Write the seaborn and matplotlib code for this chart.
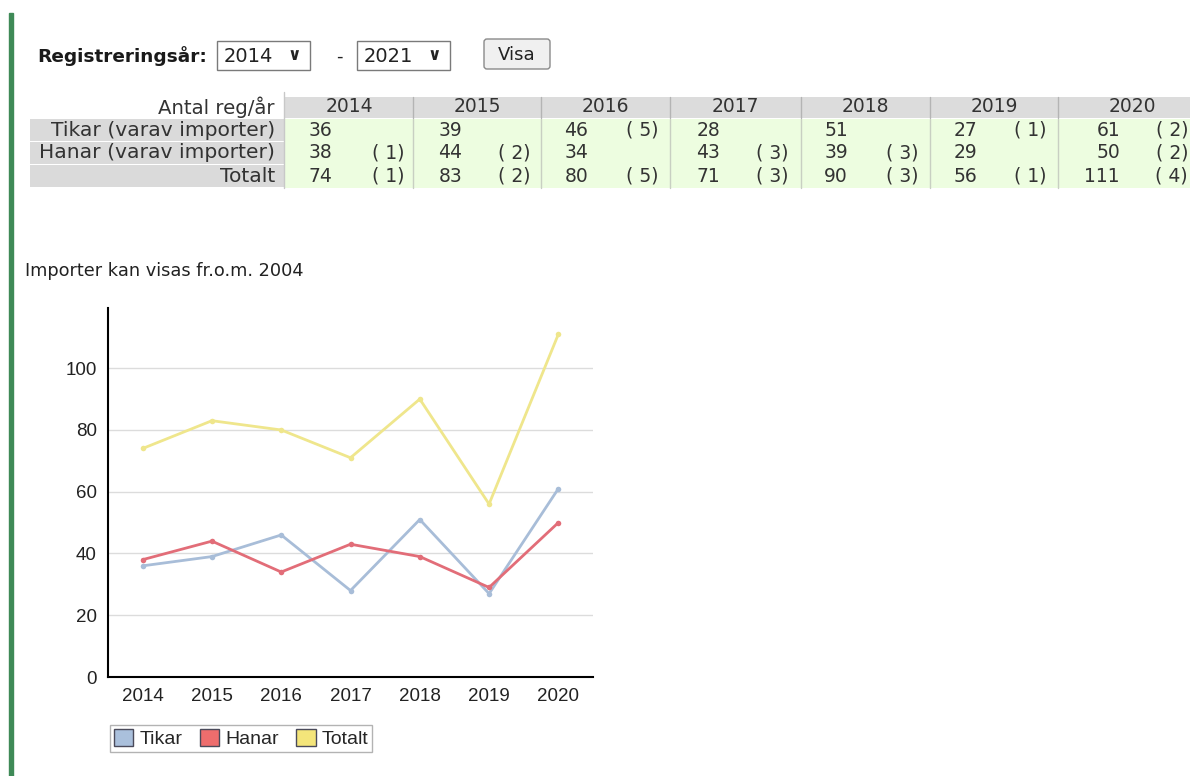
import pandas as pd
import seaborn as sns
import matplotlib.pyplot as plt
from matplotlib.patches import Rectangle, FancyBboxPatch, Patch

years = ['2014', '2015', '2016', '2017', '2018', '2019', '2020']
tikar = [36, 39, 46, 28, 51, 27, 61]
hanar = [38, 44, 34, 43, 39, 29, 50]
totalt = [74, 83, 80, 71, 90, 56, 111]
# antal importer (None = inga)
tikar_imp = [None, None, 5, None, None, 1, 2]
hanar_imp = [1, 2, None, 3, 3, None, 2]
totalt_imp = [1, 2, 5, 3, 3, 1, 4]

serier = ['Tikar', 'Hanar', 'Totalt']
radrubriker = ['Tikar (varav importer)', 'Hanar (varav importer)', 'Totalt']
farger = {'Tikar': '#a8bdd8', 'Hanar': '#e26d78', 'Totalt': '#efe68c'}
legend_farger = ['#aac0dc', '#ee6d6d', '#f4e57a']

df = pd.DataFrame({
    'År': years * 3,
    'Antal': tikar + hanar + totalt,
    'Serie': [s for s in serier for _ in years],
})

sns.set_style('white')
plt.rcParams['font.family'] = ['DejaVu Sans']

fig = plt.figure(figsize=(11.9, 7.76), dpi=100)

# sidan (pixelkoordinater)
page = fig.add_axes([0, 0, 1, 1])
page.set_xlim(0, 1190)
page.set_ylim(776, 0)
page.axis('off')

page.add_patch(Rectangle((9, 13), 4, 763, color='#3f8a57'))

# formulär
page.text(37, 56, 'Registreringsår:', fontsize=13.3, fontweight='bold',
          va='center', color='#1a1a1a')
for x0, txt in [(217, '2014'), (357, '2021')]:
    page.add_patch(Rectangle((x0, 41), 93, 29, facecolor='white',
                             edgecolor='#7a7a7a', lw=1))
    page.text(x0 + 7, 56, txt, fontsize=14, va='center', color='#222222')
    page.text(x0 + 77, 55, '∨', fontsize=12, fontweight='bold',
              va='center', ha='center', color='#222222')
page.text(336, 57, '-', fontsize=13, va='center', color='#222222')
page.add_patch(FancyBboxPatch((484, 39), 66, 30, boxstyle='round,pad=0,rounding_size=3',
                              facecolor='#f0f0f0', edgecolor='#8a8a8a', lw=1))
page.text(517, 55, 'Visa', fontsize=13, va='center', ha='center', color='#222222')

# tabell
kanter = [285, 413, 541, 670, 801, 930, 1058, 1206]
tal_x = [332, 462, 588, 720, 848, 977, 1120]
imp_x = [404, 530, 658, 789, 918, 1047, 1188]
rad_y = [119, 142, 165]
rad_h = 22
fs = 13.5
page.text(275, 107, 'Antal reg/år', fontsize=14.2, ha='right', va='center', color='#333333')
for i, y in enumerate(years):
    page.add_patch(Rectangle((kanter[i], 97), kanter[i + 1] - kanter[i], 21,
                             facecolor='#dcdcdc', edgecolor='none'))
    page.text((kanter[i] + kanter[i + 1]) / 2, 107, y, fontsize=fs,
              ha='center', va='center', color='#333333')
page.add_patch(Rectangle((285, 119), 905, 69, facecolor='#edfde0', edgecolor='none'))
for r, (rubrik, y0) in enumerate(zip(radrubriker, rad_y)):
    page.add_patch(Rectangle((30, y0), 254, rad_h, facecolor='#dadada', edgecolor='none'))
    page.text(275, y0 + rad_h / 2, rubrik, fontsize=14.6, ha='right', va='center',
              color='#333333')
for x in kanter[1:-1]:
    page.plot([x, x], [97, 118], color='#b4b4b4', lw=1)
    page.plot([x, x], [119, 188], color='#c8cfc2', lw=1)
page.plot([284, 284], [92, 188], color='#c8c8c8', lw=1)

for r, (vals, imps) in enumerate([(tikar, tikar_imp), (hanar, hanar_imp), (totalt, totalt_imp)]):
    yc = rad_y[r] + rad_h / 2
    for i in range(len(years)):
        page.text(tal_x[i], yc, str(vals[i]), fontsize=fs, ha='right',
                  va='center', color='#333333')
        if imps[i] is not None:
            page.text(imp_x[i], yc, '( %d)' % imps[i], fontsize=fs,
                      ha='right', va='center', color='#333333')

page.text(25, 271, 'Importer kan visas fr.o.m. 2004', fontsize=12.8, va='center',
          color='#222222')

# diagram
ax = fig.add_axes([108 / 1190, (776 - 677) / 776, (593 - 108) / 1190, (677 - 308) / 776])
ax.set_facecolor('none')
sns.lineplot(data=df, x='År', y='Antal', hue='Serie', hue_order=serier,
             palette=farger, marker='o', markersize=4, markeredgewidth=0,
             linewidth=2, legend=False, ax=ax)
ax.set_xlim(-0.5, 6.5)
ax.set_ylim(0, 119.5)
ax.set_yticks([0, 20, 40, 60, 80, 100])
ax.set_xlabel('')
ax.set_ylabel('')
ax.grid(axis='y', color='#dcdcdc', lw=1)
ax.set_axisbelow(True)
sns.despine(ax=ax)
for s in ['left', 'bottom']:
    ax.spines[s].set_color('black')
    ax.spines[s].set_linewidth(1.5)
ax.tick_params(axis='x', length=5, width=1.2, color='black', pad=3)
ax.tick_params(axis='y', length=0, pad=8)
for lab in ax.get_xticklabels() + ax.get_yticklabels():
    lab.set_family(['Liberation Sans'])
    lab.set_fontsize(13.5)
    lab.set_color('#222222')

handles = [Patch(facecolor=c, edgecolor='#4a4a5a', lw=1) for c in legend_farger]
leg = fig.legend(handles, serier, loc='upper left',
                 bbox_to_anchor=(110 / 1190, 1 - 725 / 776), ncol=3,
                 prop={'family': 'Liberation Sans', 'size': 14},
                 handlelength=1.0, handleheight=1.0, handletextpad=0.3,
                 columnspacing=0.9, borderpad=0.2, borderaxespad=0,
                 fancybox=False, frameon=True)
leg.get_frame().set_edgecolor('#a0a0a0')
leg.get_frame().set_linewidth(1)

fig.savefig('out.png', dpi=100)
